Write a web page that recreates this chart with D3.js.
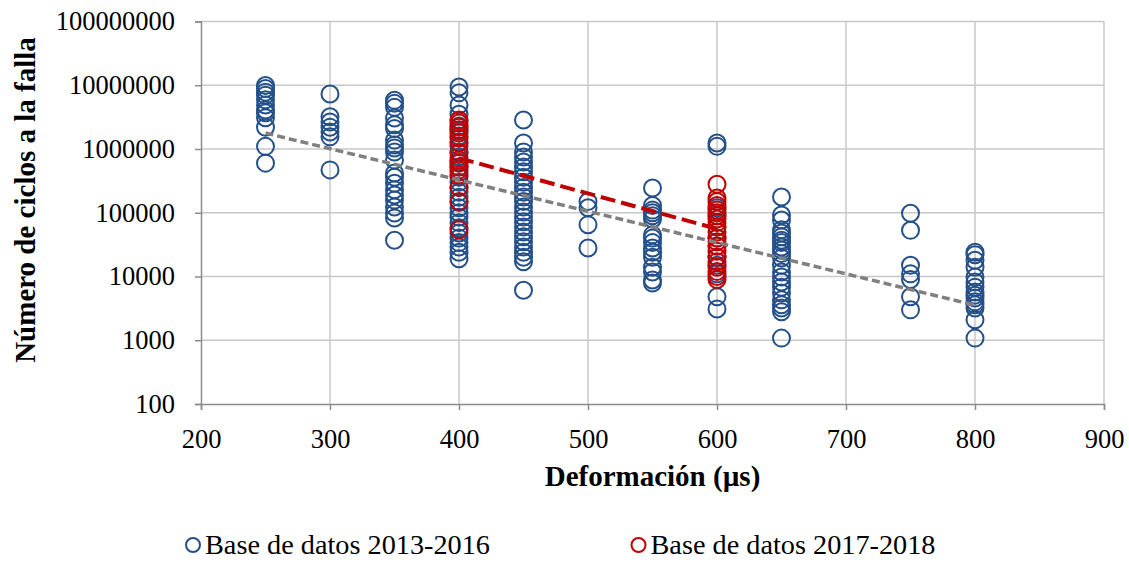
<!DOCTYPE html>
<html>
<head>
<meta charset="utf-8">
<script src="https://cdn.jsdelivr.net/npm/d3@7"></script>
<style>
  body { margin: 0; background: #fff; }
  text { font-family: "Liberation Serif", "Times New Roman", serif; fill: #000; }
</style>
</head>
<body>
<svg id="chart"></svg>
<script>
// deformation levels (µs) and cycles to failure
var strain2013 = [250, 300, 350, 400, 450, 500, 550, 600, 650, 750, 800];
var cycles2013 = [
  [9.9e6, 8.9e6, 7.8e6, 7.0e6, 5.9e6, 4.9e6, 4.1e6, 3.7e6, 3.1e6, 2.2e6, 1.1e6, 6.0e5],
  [7.3e6, 3.2e6, 2.65e6, 2.2e6, 1.85e6, 1.55e6, 4.7e5],
  [5.8e6, 5.2e6, 4.5e6, 3.06e6, 2.4e6, 2.1e6, 1.38e6, 1.16e6, 1.04e6, 9e5, 6.7e5, 4.2e5, 3.6e5, 2.9e5, 2.3e5, 1.9e5, 1.58e5, 1.23e5, 9.9e4, 8.3e4, 3.7e4],
  [9.4e6, 7.6e6, 4.9e6, 3.5e6, 2.8e6, 2.3e6, 1.9e6, 1.6e6, 1.3e6, 1.1e6, 9e5, 7.5e5, 6.2e5, 5.2e5, 4.3e5, 3.6e5, 3e5, 2.5e5, 2.1e5, 1.75e5, 1.45e5, 1.2e5, 1e5, 8.5e4, 7e4, 5.8e4, 4.8e4, 4e4, 3.4e4, 2.9e4, 2.4e4, 1.9e4],
  [2.85e6, 1.24e6, 9e5, 7.5e5, 6.25e5, 5.2e5, 4.4e5, 3.6e5, 3e5, 2.5e5, 2.1e5, 1.77e5, 1.5e5, 1.23e5, 1.03e5, 8.6e4, 7.2e4, 6e4, 5e4, 4.2e4, 3.5e4, 2.9e4, 2.4e4, 2e4, 1.7e4, 6.1e3],
  [1.5e5, 1.2e5, 6.5e4, 2.8e4],
  [2.44e5, 1.3e5, 1.1e5, 1e5, 9e4, 8e4, 4.5e4, 4e4, 3.4e4, 2.8e4, 2.4e4, 2e4, 1.4e4, 1.18e4, 8.8e3, 7.9e3],
  [1.24e6, 1.1e6, 1.2e5, 9e4, 6e4, 4e4, 3e4, 2e4, 1.5e4, 1.1e4, 4.8e3, 3.1e3],
  [1.77e5, 9.2e4, 7.7e4, 5.4e4, 4.8e4, 4.2e4, 3.7e4, 3.4e4, 2.9e4, 2.6e4, 2.3e4, 1.95e4, 1.5e4, 1.18e4, 9.8e3, 8.2e3, 6.8e3, 5.5e3, 4.3e3, 3.6e3, 3.2e3, 2.8e3, 1.08e3],
  [9.8e4, 5.3e4, 1.5e4, 1.1e4, 9e3, 4.8e3, 3e3],
  [2.4e4, 2.2e4, 1.8e4, 1.4e4, 9.8e3, 8.2e3, 6.8e3, 5.7e3, 5.1e3, 4.6e3, 4e3, 3.6e3, 3.2e3, 2.1e3, 1.08e3]
];
var strain2017 = [400, 600];
var cycles2017 = [
  [2.85e6, 2.56e6, 2.2e6, 2e6, 1.78e6, 1.48e6, 1.24e6, 8.6e5, 6.7e5, 6e5, 5.2e5, 4.7e5, 3.9e5, 2.5e5, 1.5e5, 5.4e4],
  [2.8e5, 1.7e5, 1.5e5, 1.3e5, 1.1e5, 1e5, 9e4, 8e4, 7e4, 6e4, 5e4, 4e4, 3.5e4, 3e4, 2.5e4, 2e4, 1.7e4, 1.4e4, 1.2e4, 1e4, 9e3]
];
// exponential trend lines (end points)
var trendAllX = [250, 800];
var trendAllY = [1.78e6, 3.55e3];
var trendNewX = [400, 600];
var trendNewY = [7.2e5, 5.6e4];

var xTicks = [200, 300, 400, 500, 600, 700, 800, 900];
var yTicks = [100, 1000, 10000, 100000, 1000000, 10000000, 100000000];
var seriesNames = ["Base de datos 2013-2016", "Base de datos 2017-2018"];
var seriesColors = ["#24508A", "#C00000"];

var width = 1129, height = 562;
var margin = {left: 201, right: 25, top: 21.5, bottom: 158};

var svg = d3.select("#chart").attr("width", width).attr("height", height);

var x = d3.scaleLinear().domain([200, 900]).range([margin.left, width - margin.right]);
var y = d3.scaleLog().domain([100, 1e8]).range([height - margin.bottom, margin.top]);

// gridlines
svg.append("g").selectAll("line")
    .data(xTicks.slice(1))
    .enter().append("line")
    .attr("x1", d => x(d)).attr("x2", d => x(d))
    .attr("y1", y(100)).attr("y2", y(1e8))
    .attr("stroke", "#C8C8C8").attr("stroke-width", 1.5);
svg.append("g").selectAll("line")
    .data(yTicks.slice(1))
    .enter().append("line")
    .attr("x1", x(200)).attr("x2", x(900))
    .attr("y1", d => y(d)).attr("y2", d => y(d))
    .attr("stroke", "#C8C8C8").attr("stroke-width", 1.5);

// axes
var xAxis = svg.append("g")
    .attr("transform", "translate(0," + y(100) + ")")
    .call(d3.axisBottom(x).tickValues(xTicks).tickSize(6).tickPadding(19).tickFormat(d3.format("d")));
var yAxis = svg.append("g")
    .attr("transform", "translate(" + x(200) + ",0)")
    .call(d3.axisLeft(y).tickValues(yTicks).tickSize(6).tickPadding(20).tickFormat(d3.format("d")));
[xAxis, yAxis].forEach(function (g) {
    g.select(".domain").attr("stroke", "#8C8C8C").attr("stroke-width", 1.5);
    g.selectAll(".tick line").attr("stroke", "#8C8C8C").attr("stroke-width", 1.5);
    g.selectAll(".tick text")
        .style("font-family", "'Liberation Serif', serif")
        .style("font-size", "26.5px").attr("fill", "#000");
});

// points
var points2013 = [];
strain2013.forEach(function (s, i) {
    cycles2013[i].forEach(function (c) { points2013.push({x: s, y: c}); });
});
var points2017 = [];
strain2017.forEach(function (s, i) {
    cycles2017[i].forEach(function (c) { points2017.push({x: s, y: c}); });
});

svg.append("g").selectAll("circle")
    .data(points2013)
    .enter().append("circle")
    .attr("cx", d => x(d.x)).attr("cy", d => y(d.y)).attr("r", 8.5)
    .attr("fill", "none").attr("stroke", seriesColors[0]).attr("stroke-width", 2);

svg.append("g").selectAll("circle")
    .data(points2017)
    .enter().append("circle")
    .attr("cx", d => x(d.x)).attr("cy", d => y(d.y)).attr("r", 8.5)
    .attr("fill", "none").attr("stroke", seriesColors[1]).attr("stroke-width", 2);

// trend lines
var line = d3.line().x(d => x(d[0])).y(d => y(d[1]));
svg.append("path")
    .attr("d", line(d3.zip(trendAllX, trendAllY)))
    .attr("fill", "none").attr("stroke", "#808080")
    .attr("stroke-width", 3.5).attr("stroke-dasharray", "8,4");
svg.append("path")
    .attr("d", line(d3.zip(trendNewX, trendNewY)))
    .attr("fill", "none").attr("stroke", "#C00000")
    .attr("stroke-width", 4).attr("stroke-dasharray", "15,6");

// axis titles
svg.append("text")
    .attr("x", x(550)).attr("y", 486)
    .attr("text-anchor", "middle")
    .style("font-size", "29px").style("font-weight", "bold")
    .text("Deformación (µs)");
svg.append("text")
    .attr("transform", "translate(35,200) rotate(-90)")
    .attr("text-anchor", "middle")
    .style("font-size", "29px").style("font-weight", "bold")
    .text("Número de ciclos a la falla");

// legend
var legend = svg.append("g").selectAll("g")
    .data(seriesNames)
    .enter().append("g")
    .attr("transform", (d, i) => "translate(" + (193 + i * 445.5) + ",545)");
legend.append("circle")
    .attr("r", 7).attr("fill", "none")
    .attr("stroke", (d, i) => seriesColors[i]).attr("stroke-width", 2);
legend.append("text")
    .attr("x", 12).attr("y", 9)
    .attr("textLength", 285).attr("lengthAdjust", "spacingAndGlyphs")
    .style("font-size", "27px")
    .text(d => d);
</script>
</body>
</html>
